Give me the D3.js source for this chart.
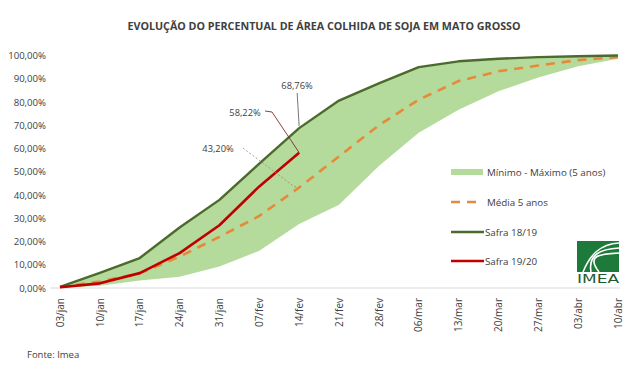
<!DOCTYPE html>
<html><head><meta charset="utf-8">
<script src="https://cdn.jsdelivr.net/npm/d3@7"></script>
<style>
body{margin:0;background:#fff;}
svg{display:block;font-family:"Open Sans",sans-serif;}
</style></head><body>
<svg id="c" width="640" height="371"></svg>
<script>
const weeks = ["03/jan","10/jan","17/jan","24/jan","31/jan","07/fev","14/fev","21/fev","28/fev","06/mar","13/mar","20/mar","27/mar","03/abr","10/abr"];
const maxVals = [0.5, 6.5, 12.9, 26.0, 37.9, 53.5, 68.76, 80.6, 88.0, 95.0, 97.5, 98.6, 99.3, 99.7, 100];
const minVals = [0.0, 1.0, 3.2, 4.8, 9.2, 16.0, 27.5, 35.8, 52.5, 66.8, 76.7, 84.6, 90.5, 95.4, 98.6];
const media   = [0.5, 2.8, 6.3, 13.5, 22.0, 31.0, 43.20, 56.6, 70.0, 81.0, 89.0, 93.2, 95.7, 98.0, 99.3];
const safra1819 = maxVals;
const safra1920 = [0.3, 2.0, 6.4, 15.0, 27.0, 43.7, 58.22];
const yTicks = [0,10,20,30,40,50,60,70,80,90,100];

const svg = d3.select("#c");
const x = d3.scalePoint().domain(weeks).range([60, 618]);
const y = d3.scaleLinear().domain([0,100]).range([288, 55.5]);
const fmt = v => v.toFixed(2).replace(".", ",") + "%";

// title
svg.append("text").attr("x", 324).attr("y", 30).attr("text-anchor","middle")
  .attr("font-size", 10.5).attr("font-weight", 700).attr("fill","#404040")
  .attr("textLength", 393).attr("lengthAdjust","spacingAndGlyphs")
  .text("EVOLUÇÃO DO PERCENTUAL DE ÁREA COLHIDA DE SOJA EM MATO GROSSO");

// band
const band = weeks.map((w,i)=>({w, lo:minVals[i], hi:maxVals[i]}));
svg.append("path").datum(band)
  .attr("d", d3.area().x(d=>x(d.w)).y0(d=>y(d.lo)).y1(d=>y(d.hi)))
  .attr("fill","#b4da9c");

// axis baseline
svg.append("line").attr("x1",50).attr("x2",620).attr("y1",y(0)).attr("y2",y(0))
  .attr("stroke","#d9d9d9").attr("stroke-width",1);

// y axis labels
const yAxis = d3.axisLeft(y).tickValues(yTicks).tickSize(0).tickPadding(0).tickFormat(fmt);
const ya = svg.append("g").attr("transform","translate(46,0)").call(yAxis);
ya.select(".domain").remove();
ya.selectAll("text").attr("font-size",9.6).attr("fill","#404040").attr("font-family","Open Sans, sans-serif");

// x axis labels
const xAxis = d3.axisBottom(x).tickSize(0).tickPadding(0);
const xa = svg.append("g").attr("transform","translate(0,"+y(0)+")").call(xAxis);
xa.select(".domain").remove();
xa.selectAll("text").attr("font-size",10).attr("fill","#404040").attr("font-family","Open Sans, sans-serif")
  .attr("text-anchor","end").attr("transform","rotate(-90)").attr("dx","-10").attr("dy","0.32em").attr("x",0).attr("y",0);

const line = d3.line().x((d,i)=>x(weeks[i])).y(d=>y(d));

// media dashed
svg.append("path").datum(media).attr("d", line).attr("fill","none")
  .attr("stroke","#e8893a").attr("stroke-width",2.6).attr("stroke-dasharray","9,7");
// safra 18/19
svg.append("path").datum(safra1819).attr("d", line).attr("fill","none")
  .attr("stroke","#4b6a2c").attr("stroke-width",2.4).attr("stroke-linejoin","round");
// safra 19/20
svg.append("path").datum(safra1920).attr("d", line).attr("fill","none")
  .attr("stroke","#c00000").attr("stroke-width",2.6).attr("stroke-linejoin","round");

// annotations
const xe = x("14/fev");
const ann = svg.append("g").attr("font-size",9.3).attr("fill","#404040");
ann.append("text").attr("x",297).attr("y",89).attr("text-anchor","middle").text(fmt(safra1819[6]));
svg.append("path").attr("d", `M${xe-2},93 L${xe},${y(safra1819[6])-2}`).attr("stroke","#555").attr("stroke-width",0.8).attr("fill","none");
ann.append("text").attr("x",245).attr("y",116).attr("text-anchor","middle").text(fmt(safra1920[6]));
svg.append("path").attr("d", `M265,111 L272,112 L${xe},${y(safra1920[6])}`).attr("stroke","#7a2a2a").attr("stroke-width",0.9).attr("fill","none");
ann.append("text").attr("x",218).attr("y",152).attr("text-anchor","middle").text(fmt(media[6]));
svg.append("path").attr("d", `M243,148 L${xe-5},${y(media[6])-1} L${xe},${y(media[6])}`).attr("stroke","#a08a6a").attr("stroke-width",0.8).attr("stroke-dasharray","2,2").attr("fill","none");

// legend
const lg = svg.append("g").attr("font-size",9.8).attr("fill","#404040");
lg.append("rect").attr("x",451).attr("y",169).attr("width",32).attr("height",6).attr("fill","#b4da9c");
lg.append("text").attr("x",487).attr("y",175.5).text("Mínimo - Máximo (5 anos)");
lg.append("line").attr("x1",451).attr("x2",482).attr("y1",202).attr("y2",202).attr("stroke","#e8893a").attr("stroke-width",2.6).attr("stroke-dasharray","9,7");
lg.append("text").attr("x",487).attr("y",205.5).text("Média 5 anos");
lg.append("line").attr("x1",451).attr("x2",484).attr("y1",232).attr("y2",232).attr("stroke","#4b6a2c").attr("stroke-width",2.4);
lg.append("text").attr("x",485).attr("y",235.5).text("Safra 18/19");
lg.append("line").attr("x1",451).attr("x2",484).attr("y1",261).attr("y2",261).attr("stroke","#c00000").attr("stroke-width",2.4);
lg.append("text").attr("x",485).attr("y",264.5).text("Safra 19/20");

// IMEA logo
const logo = svg.append("g");
logo.append("rect").attr("x",577).attr("y",241).attr("width",42).attr("height",31).attr("fill","#1e7a3a");
[[0,0],[7,0],[14,0]].forEach((o,i)=>{
  logo.append("path").attr("d",`M${619},${243+i*5} C${600},${244+i*5} ${590-i*2},${255} ${583+i*8},272`)
    .attr("stroke","#fff").attr("stroke-width",1.6).attr("fill","none");
});
logo.append("text").attr("x",598).attr("y",283).attr("text-anchor","middle").attr("font-size",13)
  .attr("font-family","DejaVu Sans Condensed, sans-serif").attr("fill","#1e5a2e").attr("textLength",42).attr("lengthAdjust","spacingAndGlyphs").text("IMEA");

// source
svg.append("text").attr("x",27).attr("y",358).attr("font-size",9.5).attr("fill","#404040").text("Fonte: Imea");
</script>
</body></html>
